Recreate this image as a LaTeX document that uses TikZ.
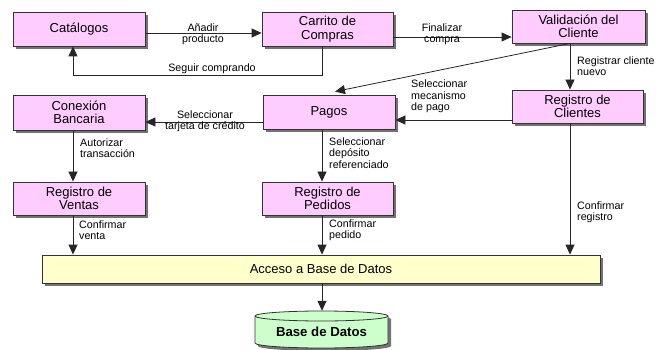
\documentclass[tikz,border=0pt]{standalone}
\usepackage{fontspec}
\setmainfont{Liberation Sans}
\usetikzlibrary{arrows.meta,shadows}

\definecolor{boxpink}{HTML}{FFCCFF}
\definecolor{boxyellow}{HTML}{FFFFCC}
\definecolor{boxgreen}{HTML}{CCFFCC}
\definecolor{edgegray}{HTML}{333333}

\tikzset{
  procbox/.style={draw=edgegray, line width=0.8pt, fill=boxpink,
    minimum width=132pt, minimum height=34pt, inner sep=1pt, align=center,
    font=\fontsize{13}{13.4}\selectfont,
    drop shadow={shadow xshift=3pt, shadow yshift=-3pt, fill=black!55, opacity=1}},
  accbox/.style={procbox, fill=boxyellow, minimum width=558pt, minimum height=28pt},
  flowlabel/.style={inner sep=0pt, font=\fontsize{10.7}{11.5}\selectfont},
  leftlabel/.style={flowlabel, anchor=west, align=left},
  midlabel/.style={flowlabel, align=center},
  arr/.style={draw=black!85, line width=0.8pt, -{Triangle[length=10pt,width=9pt]}}
}

\begin{document}
\begin{tikzpicture}[x=1pt,y=-1pt]
  \useasboundingbox (0,0) rectangle (659,350);

  % column and row guides for the connectors
  \coordinate (colA) at (73,0);
  \coordinate (colB) at (322,0);
  \coordinate (colC) at (570,0);
  \coordinate (rowA) at (0,33);
  \coordinate (rowB) at (0,37);
  \coordinate (rowC) at (0,75);
  \coordinate (rowD) at (0,122);
  \coordinate (rowE) at (0,120);

  % process boxes
  \node[procbox] (cat) at (79,29)      {Catálogos};
  \node[procbox, minimum width=131pt] (car) at (327.5,29) {Carrito de\\Compras};
  \node[procbox, minimum width=133pt, minimum height=33pt] (val) at (578.5,26.5) {Validación del\\Cliente};
  \node[procbox, minimum height=35pt] (con) at (79,112.5) {Conexión\\Bancaria};
  \node[procbox] (pag) at (329,112)    {Pagos};
  \node[procbox, minimum width=131pt, minimum height=33pt] (rcl) at (577.5,106.5) {Registro de\\Clientes};
  \node[procbox, minimum height=33pt] (rve) at (79,198.5) {Registro de\\Ventas};
  \node[procbox, minimum width=131pt, minimum height=33pt] (rpe) at (327.5,198.5) {Registro de\\Pedidos};
  \node[accbox] (acc) at (321,269) {Acceso a Base de Datos};

  % database cylinder
  \fill[black!55] (258,319) -- (258,346)
      arc[start angle=180, end angle=360, x radius=66.5pt, y radius=5pt]
      -- (391,319)
      arc[start angle=0, end angle=180, x radius=66.5pt, y radius=5pt] -- cycle;
  \filldraw[draw=edgegray, line width=0.8pt, fill=boxgreen] (255,316) -- (255,343)
      arc[start angle=180, end angle=360, x radius=66.5pt, y radius=5pt]
      -- (388,316)
      arc[start angle=0, end angle=180, x radius=66.5pt, y radius=5pt] -- cycle;
  \draw[draw=edgegray, line width=0.8pt] (255,316)
      arc[start angle=180, end angle=360, x radius=66.5pt, y radius=5pt];
  \node[minimum width=133pt, minimum height=37pt, inner sep=0pt,
        font=\fontsize{13.2}{14}\selectfont\bfseries] (bd) at (321.5,331.5) {Base de Datos};

  % connectors
  \draw[arr] (cat.east |- rowA) -- (car.west |- rowA);
  \draw[arr] (car.east |- rowB) -- (val.west |- rowB);
  \draw[arr] (car.south -| colB) -- (colB |- rowC) -- (colA |- rowC) -- (cat.south -| colA);
  \draw[arr] (val.south -| colC) -- (rcl.north -| colC);
  \draw[arr] (val.south -| colC) -- ([xshift=6pt,yshift=3pt]pag.north);
  \draw[arr] (rcl.west |- rowE) -- (pag.east |- rowE);
  \draw[arr] (pag.west |- rowD) -- (con.east |- rowD);
  \draw[arr] (con.south -| colA) -- (rve.north -| colA);
  \draw[arr] (pag.south -| colB) -- (rpe.north -| colB);
  \draw[arr] (rve.south -| colA) -- (acc.north -| colA);
  \draw[arr] (rpe.south -| colB) -- (acc.north -| colB);
  \draw[arr] (rcl.south -| colC) -- (acc.north -| colC);
  \draw[arr, shorten >=2pt] (acc.south -| colB) -- (bd.north -| colB);

  % connector labels
  \node[midlabel] (lAdd) at (203,34) {Añadir\\producto};
  \node[midlabel] (lFin) at (442,34) {Finalizar\\compra};
  \node[midlabel] (lSeg) at (212,69) {Seguir comprando};
  \node[leftlabel] (lReg) at (577,66) {Registrar cliente\\nuevo};
  \node[leftlabel] (lMec) at (411,96.5) {Seleccionar\\mecanismo\\de pago};
  \node[midlabel] (lTar) at (205,121) {Seleccionar\\tarjeta de crédito};
  \node[leftlabel] (lAut) at (80,148) {Autorizar\\transacción};
  \node[leftlabel] (lDep) at (329,153) {Seleccionar\\depósito\\referenciado};
  \node[leftlabel] (lVen) at (79,230) {Confirmar\\venta};
  \node[leftlabel] (lPed) at (329,230) {Confirmar\\pedido};
  \node[leftlabel] (lRgt) at (577,212) {Confirmar\\registro};
\end{tikzpicture}
\end{document}
